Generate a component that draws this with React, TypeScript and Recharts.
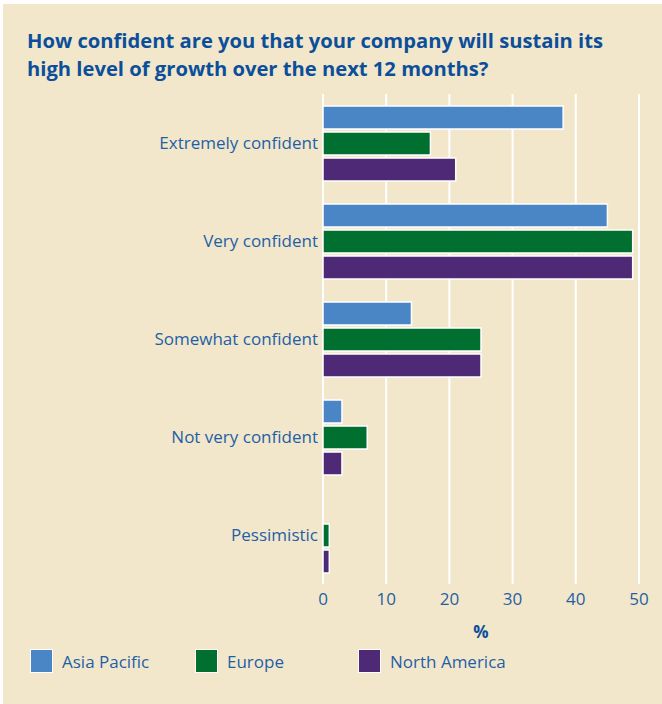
import React from "react";
import { BarChart, Bar, XAxis, YAxis, CartesianGrid } from "recharts";

const categories = [
  "Extremely confident",
  "Very confident",
  "Somewhat confident",
  "Not very confident",
  "Pessimistic",
];
const asiaPacific = [38, 45, 14, 3, 0];
const europe = [17, 49, 25, 7, 1];
const northAmerica = [21, 49, 25, 3, 1];
const xTicks = [0, 10, 20, 30, 40, 50];

const SERIES = [
  { key: "asiaPacific", name: "Asia Pacific", color: "#4a86c5" },
  { key: "europe", name: "Europe", color: "#006f2f" },
  { key: "northAmerica", name: "North America", color: "#4e2a76" },
];

const data = categories.map((c, i) => ({
  category: c,
  asiaPacific: asiaPacific[i],
  europe: europe[i],
  northAmerica: northAmerica[i],
}));

const FONT = "'Open Sans', 'Noto Sans', sans-serif";
const BLUE = "#1f5fa6";

const LegendRow = () => {
  const xs = [30, 195, 358];
  return (
    <div style={{ position: "absolute", left: 0, top: 649, width: 662, height: 26 }}>
      {SERIES.map((s, i) => (
        <div
          key={s.key}
          style={{ position: "absolute", left: xs[i], top: 0, display: "flex", alignItems: "center" }}
        >
          <div
            style={{
              width: 21,
              height: 22,
              background: s.color,
              border: "1.5px solid #fff",
              marginRight: 9,
            }}
          />
          <span style={{ fontFamily: FONT, fontSize: 17, color: BLUE }}>{s.name}</span>
        </div>
      ))}
    </div>
  );
};

const App = () => {
  return (
    <div style={{ position: "absolute", left: 0, top: 0, width: 662, height: 704, background: "#fff" }}>
      <div
        style={{
          position: "absolute",
          left: 3,
          top: 4,
          width: 659,
          height: 700,
          background: "#f2e7cb",
        }}
      />
      <div
        style={{
          position: "absolute",
          left: 27,
          top: 26,
          fontFamily: FONT,
          fontWeight: 700,
          fontSize: 20.2,
          lineHeight: "28px",
          color: "#0b4f9b",
          whiteSpace: "nowrap",
        }}
      >
        How confident are you that your company will sustain its
        <br />
        high level of growth over the next 12 months?
      </div>
      <div style={{ position: "absolute", left: 0, top: 0 }}>
        <BarChart
          width={662}
          height={704}
          data={data}
          layout="vertical"
          margin={{ top: 94, right: 23, bottom: 90, left: 0 }}
          barSize={23}
          barGap={3}
        >
          <CartesianGrid horizontal={false} stroke="#ffffff" strokeWidth={2} />
          <XAxis
            type="number"
            domain={[0, 50]}
            ticks={xTicks}
            height={30}
            axisLine={false}
            tickLine={false}
            tickSize={0}
            tickMargin={9}
            tick={{ fill: BLUE, fontSize: 17, fontFamily: FONT }}
            label={{
              value: "%",
              position: "insideBottom",
              offset: -24,
              fill: "#0b4f9b",
              fontWeight: 700,
              fontSize: 17,
              fontFamily: FONT,
            }}
          />
          <YAxis
            type="category"
            dataKey="category"
            width={323}
            axisLine={false}
            tickLine={false}
            tickSize={0}
            tickMargin={5}
            tick={{ fill: BLUE, fontSize: 17, fontFamily: FONT }}
          />
          {SERIES.map((s) => (
            <Bar
              key={s.key}
              dataKey={s.key}
              name={s.name}
              fill={s.color}
              stroke="#ffffff"
              strokeWidth={1.5}
              isAnimationActive={false}
            />
          ))}
        </BarChart>
      </div>
      <LegendRow />
    </div>
  );
};

export default App;
